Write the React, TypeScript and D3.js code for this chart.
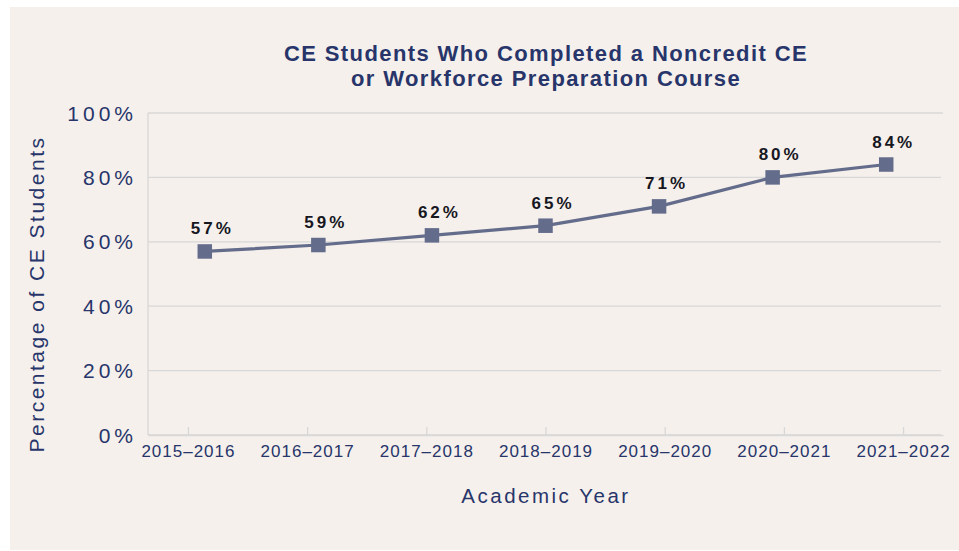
import React, { useEffect, useRef } from "react";
import * as d3 from "d3";

// academic years on the x axis
const years = [
  "2015–2016",
  "2016–2017",
  "2017–2018",
  "2018–2019",
  "2019–2020",
  "2020–2021",
  "2021–2022",
];
// share of CE students who completed a course (%)
const completion = [57, 59, 62, 65, 71, 80, 84];
const yTicks = [0, 20, 40, 60, 80, 100];

const titleLines = [
  "CE Students Who Completed a Noncredit CE",
  "or Workforce Preparation Course",
];

const NAVY = "#27356a";
const GRID = "#d8d8d8";
const LINE = "#646c8b";

export default function App() {
  const ref = useRef<SVGSVGElement | null>(null);

  useEffect(() => {
    const width = 959;
    const height = 551;
    const left = 148;
    const right = 943;
    const top = 113;
    const bottom = 435;
    const font = "'Liberation Sans', Arial, sans-serif";

    const svg = d3.select(ref.current);
    svg.selectAll("*").remove();

    svg
      .append("rect")
      .attr("x", 10)
      .attr("y", 7)
      .attr("width", width - 10)
      .attr("height", height - 8)
      .attr("fill", "#f5f0ec");

    // markers sit in the middle of each band, labels/ticks on a padded point scale
    const x = d3.scaleBand().domain(years).range([left, right]).padding(0);
    const xTick = d3.scalePoint().domain(years).range([left, right]).padding(0.335);
    const y = d3.scaleLinear().domain([0, 100]).range([bottom, top]);
    const cx = (d: string) => (x(d) as number) + x.bandwidth() / 2;

    // gridlines
    svg
      .append("g")
      .selectAll("line")
      .data(yTicks)
      .enter()
      .append("line")
      .attr("x1", left)
      .attr("x2", (d) => (d === 100 ? right : right - 2))
      .attr("y1", (d) => y(d))
      .attr("y2", (d) => y(d))
      .attr("stroke", GRID)
      .attr("stroke-width", 1.3);

    // left axis line
    svg
      .append("line")
      .attr("x1", left)
      .attr("x2", left)
      .attr("y1", top)
      .attr("y2", bottom)
      .attr("stroke", GRID)
      .attr("stroke-width", 1.3);

    // bottom axis with ticks pointing up
    svg
      .append("g")
      .attr("transform", `translate(0,${bottom})`)
      .call(d3.axisBottom(xTick).tickSize(-8).tickSizeOuter(0).tickPadding(22))
      .call((g) => g.select(".domain").attr("stroke", GRID).attr("stroke-width", 1.5))
      .call((g) => g.selectAll(".tick line").attr("stroke", GRID).attr("stroke-width", 1.3))
      .call((g) =>
        g
          .selectAll(".tick text")
          .attr("fill", NAVY)
          .attr("dy", 0)
          .style("font-family", font)
          .style("font-size", "17px")
          .style("letter-spacing", "1px")
      );

    // y tick labels
    svg
      .append("g")
      .selectAll("text")
      .data(yTicks)
      .enter()
      .append("text")
      .attr("x", 137)
      .attr("y", (d) => y(d) + 7.5)
      .attr("text-anchor", "end")
      .attr("fill", NAVY)
      .style("font-family", font)
      .style("font-size", "21px")
      .style("letter-spacing", "4px")
      .text((d) => d + "%");

    // line
    const line = d3
      .line<number>()
      .x((d, i) => cx(years[i]))
      .y((d) => y(d));

    svg
      .append("path")
      .datum(completion)
      .attr("d", line)
      .attr("fill", "none")
      .attr("stroke", LINE)
      .attr("stroke-width", 3.2);

    const size = 14.5;
    svg
      .append("g")
      .selectAll("rect")
      .data(completion)
      .enter()
      .append("rect")
      .attr("x", (d, i) => cx(years[i]) - size / 2)
      .attr("y", (d) => y(d) - size / 2)
      .attr("width", size)
      .attr("height", size)
      .attr("fill", LINE);

    // value labels
    svg
      .append("g")
      .selectAll("text")
      .data(completion)
      .enter()
      .append("text")
      .attr("x", (d, i) => cx(years[i]) + 7.5)
      .attr("y", (d) => y(d) - 17)
      .attr("text-anchor", "middle")
      .attr("fill", "#17171f")
      .style("font-family", font)
      .style("font-weight", "bold")
      .style("font-size", "17px")
      .style("letter-spacing", "3px")
      .text((d) => d + "%");

    // title
    svg
      .append("g")
      .selectAll("text")
      .data(titleLines)
      .enter()
      .append("text")
      .attr("x", 546)
      .attr("y", (d, i) => 61 + i * 24.5)
      .attr("text-anchor", "middle")
      .attr("fill", NAVY)
      .style("font-family", font)
      .style("font-weight", "bold")
      .style("font-size", "22px")
      .style("letter-spacing", "1.4px")
      .text((d) => d);

    // axis titles
    svg
      .append("text")
      .attr("x", 546)
      .attr("y", 503)
      .attr("text-anchor", "middle")
      .attr("fill", NAVY)
      .style("font-family", font)
      .style("font-size", "20.5px")
      .style("letter-spacing", "2.5px")
      .text("Academic Year");

    svg
      .append("text")
      .attr("transform", "translate(44,294) rotate(-90)")
      .attr("text-anchor", "middle")
      .attr("fill", NAVY)
      .style("font-family", font)
      .style("font-size", "21px")
      .style("letter-spacing", "2.5px")
      .text("Percentage of CE Students");
  }, []);

  return (
    <svg
      ref={ref}
      width={959}
      height={551}
      style={{ position: "absolute", left: 0, top: 0, background: "#fff" }}
    />
  );
}
